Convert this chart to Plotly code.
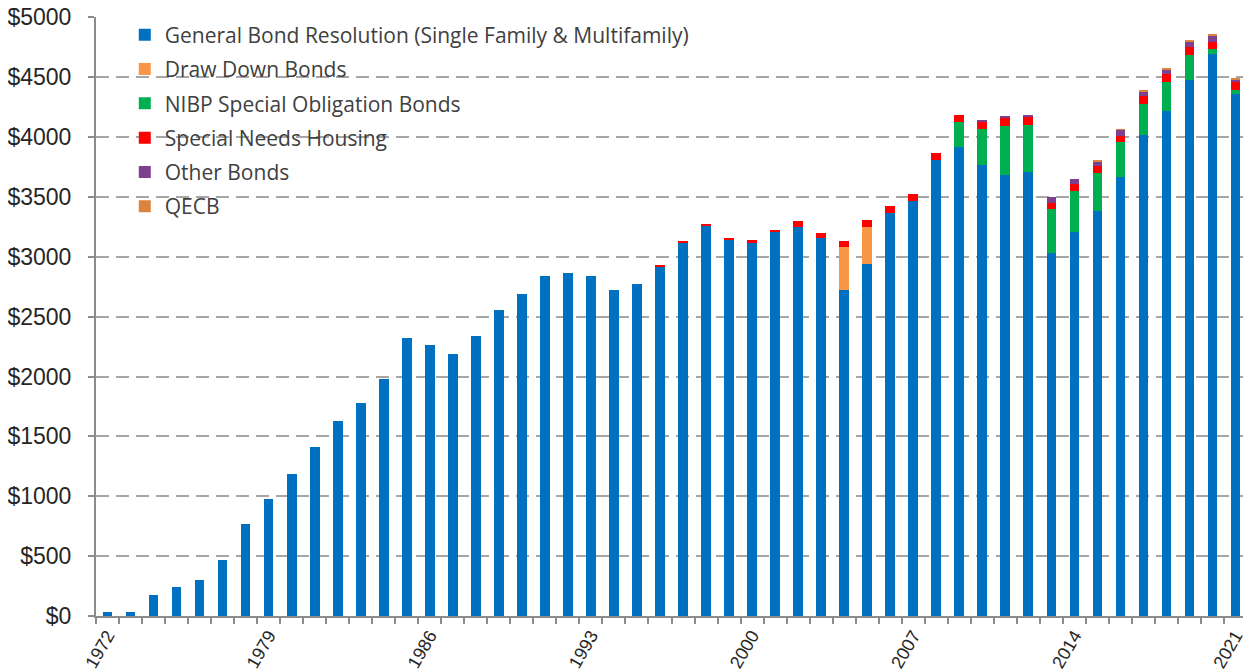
import plotly.graph_objects as go

years = list(range(1972, 2022))

general_bond = [30, 30, 177, 243, 298, 471, 768, 979, 1190, 1410,
                1625, 1778, 1978, 2322, 2264, 2189, 2342, 2552, 2689, 2842,
                2861, 2842, 2725, 2775, 2915, 3117, 3264, 3147, 3119, 3206,
                3253, 3158, 2719, 2936, 3367, 3464, 3808, 3914, 3767, 3683,
                3711, 3031, 3206, 3386, 3669, 4017, 4217, 4475, 4697, 4361]

draw_down = [0] * 32 + [359, 317] + [0] * 16

nibp = [0] * 37 + [211, 300, 411, 392, 367, 344, 317, 292, 258, 241, 211, 36, 31]

special_needs = [0] * 24 + [13, 14, 11, 11, 23, 22, 50, 39, 50, 58, 58, 61, 56, 56,
                            66, 70, 72, 55, 58, 58, 50, 67, 67, 70, 61, 66]

other_bonds = [0] * 38 + [9, 8, 8, 47, 40, 33, 50, 41, 42, 39, 53, 22]

qecb = [0] * 43 + [10, 6, 8, 6, 8, 6, 6]

series = [
    ("General Bond Resolution (Single Family & Multifamily)", general_bond, "#0070C0"),
    ("Draw Down Bonds", draw_down, "#F79646"),
    ("NIBP Special Obligation Bonds", nibp, "#00B050"),
    ("Special Needs Housing", special_needs, "#FF0000"),
    ("Other Bonds", other_bonds, "#7F3F8F"),
    ("QECB", qecb, "#DC843E"),
]

fig = go.Figure()
for name, vals, color in series:
    fig.add_trace(go.Bar(x=years, y=vals, name=name, legendgroup=name,
                         marker=dict(color=color, line=dict(width=0))))

# page body adds a small offset, so margins are shifted to compensate
fig.update_layout(
    barmode="stack",
    bargap=0.58,
    width=1251, height=671,
    margin=dict(l=88, r=12, t=9, b=63, autoexpand=False),
    plot_bgcolor="white",
    paper_bgcolor="white",
    font=dict(family="Liberation Sans", color="#262626"),
    legend=dict(x=0.025, y=1.004, xanchor="left", yanchor="top",
                bgcolor="rgba(0,0,0,0)", traceorder="grouped", tracegroupgap=4,
                font=dict(family="Open Sans", size=21, color="#404040")),
)

fig.update_xaxes(
    range=[1971.5, 2021.5], automargin=False,
    tickmode="array", tickvals=years[::7], ticktext=[str(y) for y in years[::7]],
    tickangle=-60, tickfont=dict(size=18),
    ticks="", showgrid=False,
    minor=dict(tickmode="linear", tick0=1971.5, dtick=1, ticks="outside",
               ticklen=6, tickcolor="#8C8C8C", tickwidth=2, showgrid=False),
    showline=True, linecolor="#8C8C8C", linewidth=2,
)

fig.update_yaxes(
    range=[0, 5003], dtick=500, tickprefix="$", tickformat="d", automargin=False,
    tickfont=dict(size=23), ticklabelstandoff=12, ticklabeloverflow="allow",
    ticks="outside", ticklen=6, tickcolor="#8C8C8C", tickwidth=2,
    showline=True, linecolor="#8C8C8C", linewidth=2,
    showgrid=True, gridcolor="#A6A6A6", gridwidth=2, griddash="13px,7px",
    zeroline=False,
)

fig.write_html("out.html")
